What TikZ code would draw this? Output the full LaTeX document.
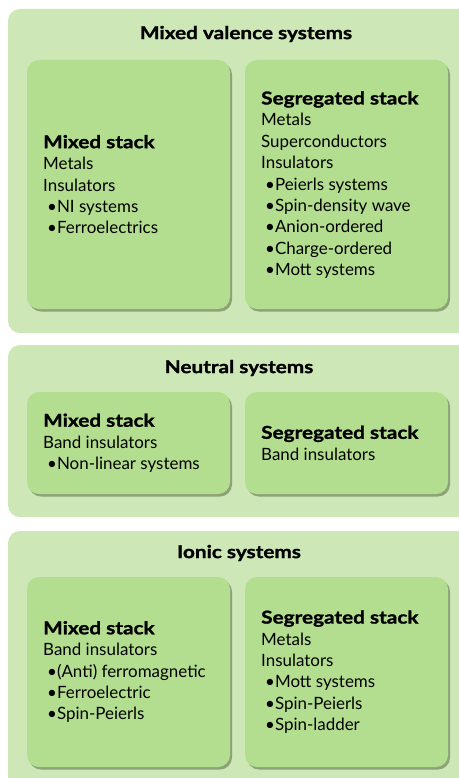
\documentclass[tikz,border=0pt]{standalone}
\usepackage{fontspec}
\setmainfont{Lato}
\newfontfamily\hdfont[FakeStretch=1.17,FakeBold=1.3]{Lato Bold}
\usetikzlibrary{shadows}
\definecolor{outerg}{HTML}{CDE7B7}
\definecolor{innerg}{HTML}{B3DE8F}
\definecolor{shadowg}{HTML}{5C6B45}
\tikzset{
  panel/.style={fill=outerg, rounded corners=12bp},
  box/.style={fill=innerg, rounded corners=12bp,
    drop shadow={shadow xshift=2bp, shadow yshift=-2.5bp, opacity=0.55, fill=shadowg}},
  ptitle/.style={font=\fontsize{17.8}{18}\hdfont, inner sep=0pt},
  btext/.style={font=\fontsize{17}{21.5}\selectfont, align=left, inner sep=0pt, anchor=west}
}
\newcommand{\hd}[1]{{\fontsize{17.8}{21.5}\hdfont #1}}
\newcommand{\bl}{\hspace*{4bp}•}
\begin{document}
\begin{tikzpicture}[x=1bp,y=-1bp]
\useasboundingbox (0,0) rectangle (459,778);
\clip (0,0) rectangle (459,778);
% panels
\fill[panel] (8,9) rectangle (480,333);
\fill[panel] (8,345) rectangle (480,517);
\fill[panel] (8,531) rectangle (480,800);
\node[ptitle] (t1) at (246,34) {Mixed valence systems};
\node[ptitle] (t2) at (239,368) {Neutral systems};
\node[ptitle] (t3) at (239,553) {Ionic systems};
% panel 1 boxes
\path[box] (27,60) rectangle (230,309);
\path[box] (245,60) rectangle (448,309);
\node[btext] (a1) at (43,184.5) {\hd{Mixed stack}\\Metals\\Insulators\\\bl NI systems\\\bl Ferroelectrics};
\node[btext] (a2) at (261,185) {\hd{Segregated stack}\\Metals\\Superconductors\\Insulators\\\bl Peierls systems\\\bl Spin-density wave\\\bl Anion-ordered\\\bl Charge-ordered\\\bl Mott systems};
% panel 2 boxes
\path[box] (27,392) rectangle (230,494);
\path[box] (245,392) rectangle (448,494);
\node[btext] (b1) at (43,443) {\hd{Mixed stack}\\Band insulators\\\bl Non-linear systems};
\node[btext] (b2) at (261,443) {\hd{Segregated stack}\\Band insulators};
% panel 3 boxes
\path[box] (27,577) rectangle (230,767);
\path[box] (245,577) rectangle (448,767);
\node[btext] (c1) at (43,672) {\hd{Mixed stack}\\Band insulators\\\bl (Anti) ferromagnetic\\\bl Ferroelectric\\\bl Spin-Peierls};
\node[btext] (c2) at (261,672) {\hd{Segregated stack}\\Metals\\Insulators\\\bl Mott systems\\\bl Spin-Peierls\\\bl Spin-ladder};
\end{tikzpicture}
\end{document}
